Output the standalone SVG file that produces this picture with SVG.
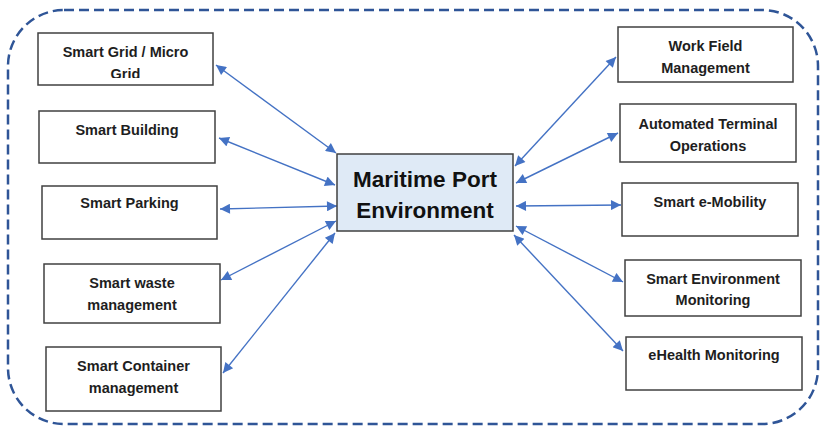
<svg xmlns="http://www.w3.org/2000/svg" width="821" height="427" viewBox="0 0 821 427">
<style>
.box{fill:#ffffff;stroke:#404040;stroke-width:1.5}
.center{fill:#dfeaf6;stroke:#404040;stroke-width:1.5}
.t{font-family:"Liberation Sans",Arial,sans-serif;font-weight:bold;font-size:14.5px;fill:#1e1e1e;text-anchor:middle}
.tc{font-family:"Liberation Sans",Arial,sans-serif;font-weight:bold;font-size:22.5px;fill:#111111;text-anchor:middle}
.c{stroke:#4472c4;stroke-width:1.4;fill:none;marker-start:url(#ah);marker-end:url(#ah)}
</style>
<defs>
<marker id="ah" viewBox="0 0 10 10" refX="10" refY="5" markerWidth="12" markerHeight="10" markerUnits="userSpaceOnUse" orient="auto-start-reverse">
<path d="M0,0 L10,5 L0,10 z" fill="#4472c4"/>
</marker>
<clipPath id="clipGrid"><rect x="38" y="33" width="175" height="45"/></clipPath>
</defs>
<rect x="8" y="10" width="810" height="414" rx="56" ry="56" fill="none" stroke="#2f5597" stroke-width="2.5" stroke-dasharray="10 5"/>
<g id="connectors">
<line class="c" x1="336" y1="153" x2="216" y2="65"/>
<line class="c" x1="335" y1="185" x2="219" y2="138"/>
<line class="c" x1="337" y1="206" x2="220" y2="209"/>
<line class="c" x1="336" y1="221" x2="221" y2="280"/>
<line class="c" x1="335" y1="233" x2="223" y2="373"/>
<line class="c" x1="515" y1="166" x2="616" y2="57"/>
<line class="c" x1="516" y1="183" x2="618" y2="133"/>
<line class="c" x1="516" y1="206" x2="621" y2="205"/>
<line class="c" x1="516" y1="226" x2="623" y2="282"/>
<line class="c" x1="514" y1="235" x2="623" y2="351"/>
</g>
<g id="center">
<rect class="center" x="337" y="154" width="176" height="77"/>
<text class="tc" x="425" y="187">Maritime Port</text>
<text class="tc" x="425" y="218">Environment</text>
</g>
<g id="smart-grid">
<rect class="box" x="38" y="33" width="175" height="52"/>
<g clip-path="url(#clipGrid)">
<text class="t" x="125.5" y="57">Smart Grid / Micro</text>
<text class="t" x="125.5" y="79">Grid</text>
</g>
</g>
<g id="smart-building">
<rect class="box" x="39" y="111" width="176" height="52"/>
<text class="t" x="127" y="135">Smart Building</text>
</g>
<g id="smart-parking">
<rect class="box" x="42" y="186" width="175" height="53"/>
<text class="t" x="129.5" y="208">Smart Parking</text>
</g>
<g id="smart-waste">
<rect class="box" x="44" y="264" width="176" height="59"/>
<text class="t" x="132" y="288">Smart waste</text>
<text class="t" x="132" y="310">management</text>
</g>
<g id="smart-container">
<rect class="box" x="46" y="347" width="175" height="64"/>
<text class="t" x="133.5" y="371">Smart Container</text>
<text class="t" x="133.5" y="393">management</text>
</g>
<g id="work-field">
<rect class="box" x="618" y="27" width="175" height="55"/>
<text class="t" x="705.5" y="51">Work Field</text>
<text class="t" x="705.5" y="73">Management</text>
</g>
<g id="automated-terminal">
<rect class="box" x="620" y="104" width="176" height="58"/>
<text class="t" x="708" y="129">Automated Terminal</text>
<text class="t" x="708" y="151">Operations</text>
</g>
<g id="smart-emobility">
<rect class="box" x="622" y="183" width="176" height="53"/>
<text class="t" x="710" y="207">Smart e-Mobility</text>
</g>
<g id="smart-environment">
<rect class="box" x="625" y="260" width="176" height="56"/>
<text class="t" x="713" y="284">Smart Environment</text>
<text class="t" x="713" y="305">Monitoring</text>
</g>
<g id="ehealth">
<rect class="box" x="626" y="337" width="176" height="53"/>
<text class="t" x="714" y="360">eHealth Monitoring</text>
</g>
</svg>
